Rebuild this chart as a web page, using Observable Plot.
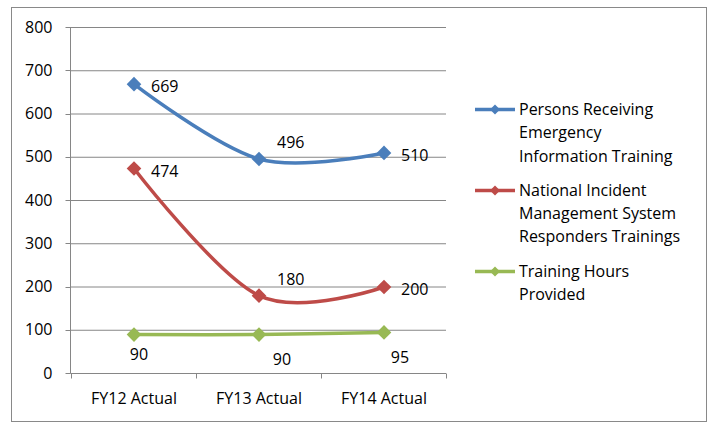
<!DOCTYPE html>
<html><head><meta charset="utf-8">
<script src="https://cdn.jsdelivr.net/npm/d3@7"></script>
<script src="https://cdn.jsdelivr.net/npm/@observablehq/plot@0.6"></script>
<style>
body{margin:0;background:#fff;font-family:"Open Sans",sans-serif;}
#wrap{position:relative;width:712px;height:426px;overflow:hidden;}
#border{position:absolute;left:11px;top:7px;width:696px;height:415px;border:1px solid #898989;box-sizing:border-box;}
#chart{position:absolute;left:0;top:0;}
#legend{position:absolute;left:475px;top:98px;font-size:16px;line-height:23.3px;color:#000;}
.item{display:flex;align-items:flex-start;margin-bottom:11px;}
.item svg{flex:none;margin-right:4px;}
.item .lab{width:175px;}
</style></head><body>
<div id="wrap"><div id="border"></div><div id="chart"></div><div id="legend"></div></div>
<script>
const categories = ["FY12 Actual", "FY13 Actual", "FY14 Actual"];
const seriesNames = [
  "Persons Receiving Emergency Information Training",
  "National Incident Management System Responders Trainings",
  "Training Hours Provided"
];
const persons = [669, 496, 510];
const nims = [474, 180, 200];
const hours = [90, 90, 95];
const yTicks = [0, 100, 200, 300, 400, 500, 600, 700, 800];
const colors = ["#4A7EBB", "#BE4B48", "#98B954"];

const seriesValues = [persons, nims, hours];
const data = seriesNames.flatMap((s, i) =>
  categories.map((c, j) => ({series: s, cat: c, value: seriesValues[i][j], idx: j, si: i})));

const structure = (index, scales, values, dims) => {
  const x = scales.x, y = scales.y;
  const left = dims.marginLeft, right = dims.width - dims.marginRight;
  const bw = x.bandwidth ? x.bandwidth() : (right - left) / categories.length;
  const g = d3.create("svg:g").attr("stroke", "#868686").attr("stroke-width", 1).attr("fill", "none");
  const y0 = Math.round(y(0)) + 0.5;
  const yTop = Math.round(y(d3.max(yTicks))) + 0.5;
  const lx = Math.round(left) + 0.5;
  for (const t of yTicks) {
    const yy = Math.round(y(t)) + 0.5;
    g.append("line").attr("x1", lx - 5).attr("x2", lx).attr("y1", yy).attr("y2", yy);
  }
  g.append("line").attr("x1", lx).attr("x2", lx).attr("y1", yTop).attr("y2", y0);
  g.append("line").attr("x1", lx).attr("x2", right).attr("y1", y0).attr("y2", y0);
  const bounds = categories.map(c => x(c)).concat([x(categories[categories.length - 1]) + bw]);
  for (const b of bounds) {
    const bx = Math.round(b) + 0.5;
    g.append("line").attr("x1", bx).attr("x2", bx).attr("y1", y0).attr("y2", y0 + 5);
  }
  return g.node();
};

const color = {domain: seriesNames, range: colors};
const labStyle = {text: d => String(d.value), fill: "#000", fontSize: 16};

const chart = Plot.plot({
  width: 712,
  height: 426,
  marginLeft: 70,
  marginRight: 266,
  marginTop: 27,
  marginBottom: 53,
  style: {fontFamily: "Open Sans", fontSize: "16px", color: "#000", background: "transparent", overflow: "visible"},
  x: {type: "band", domain: categories, padding: 0, label: null, tickSize: 0, tickPadding: 19},
  y: {domain: [0, 800], ticks: yTicks, label: null, tickSize: 0, tickPadding: 18},
  color: color,
  marks: [
    Plot.ruleY(yTicks.filter(t => t > 0), {stroke: "#868686", strokeWidth: 1}),
    structure,
    Plot.line(data, {x: "cat", y: "value", z: "series", stroke: "series", strokeWidth: 3.5, curve: "cardinal"}),
    Plot.dot(data, {x: "cat", y: "value", fill: "series", symbol: d3.symbolDiamond2, r: 6.6, stroke: null}),
    Plot.text(data.filter(d => d.si < 2 && d.idx !== 1), {x: "cat", y: "value", ...labStyle, textAnchor: "start", dx: 17, dy: 3}),
    Plot.text(data.filter(d => d.si < 2 && d.idx === 1), {x: "cat", y: "value", ...labStyle, textAnchor: "start", dx: 18, dy: -16}),
    Plot.text(data.filter(d => d.si === 2 && d.idx === 0), {x: "cat", y: "value", ...labStyle, dx: 5, dy: 20}),
    Plot.text(data.filter(d => d.si === 2 && d.idx === 1), {x: "cat", y: "value", ...labStyle, dx: 23, dy: 25}),
    Plot.text(data.filter(d => d.si === 2 && d.idx === 2), {x: "cat", y: "value", ...labStyle, dx: 16, dy: 25})
  ]
});
document.getElementById("chart").appendChild(chart);

const legend = d3.select("#legend");
seriesNames.forEach((s, i) => {
  const item = legend.append("div").attr("class", "item");
  const sv = item.append("svg").attr("width", 40).attr("height", 23);
  sv.append("line").attr("x1", 0).attr("x2", 40).attr("y1", 11.5).attr("y2", 11.5)
    .attr("stroke", colors[i]).attr("stroke-width", 3.5);
  sv.append("path").attr("d", "M20,6.5L25,11.5L20,16.5L15,11.5Z").attr("fill", colors[i]);
  item.append("div").attr("class", "lab").text(s);
});
</script>
</body></html>
